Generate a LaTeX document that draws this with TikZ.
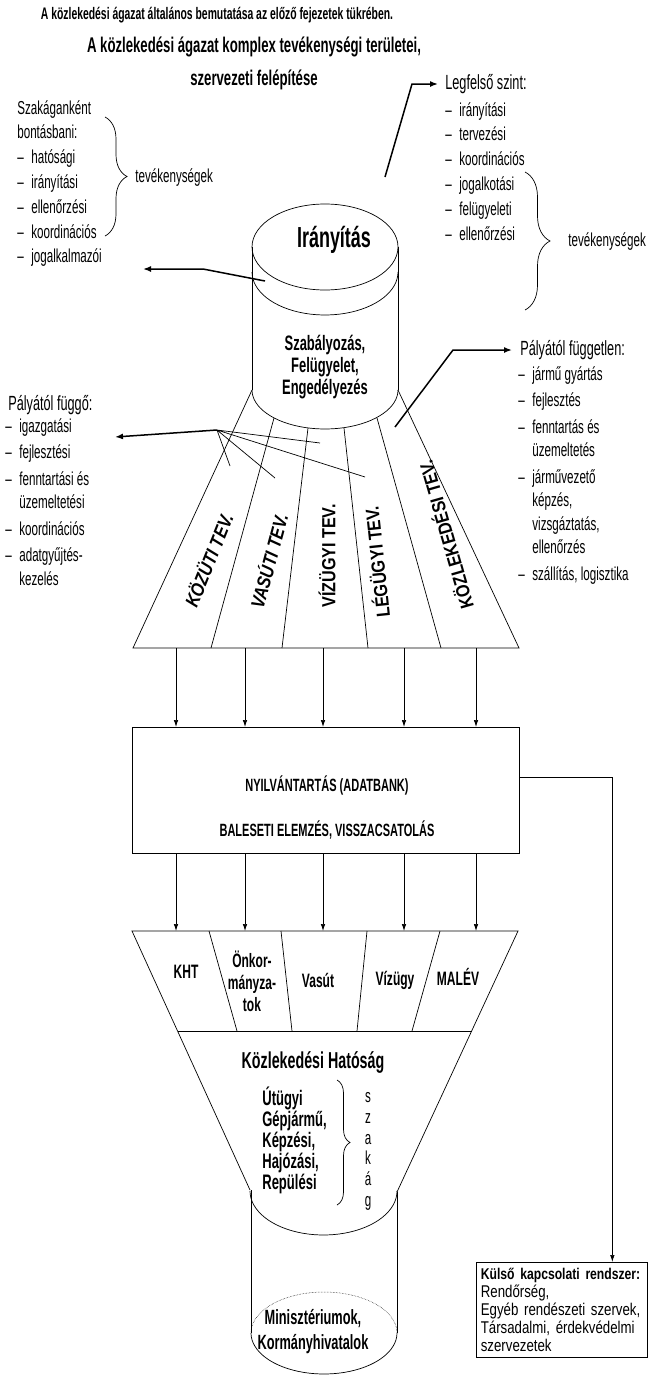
\documentclass[tikz,border=0pt]{standalone}
\usepackage{fontspec}
\setmainfont{Liberation Sans}[FakeStretch=0.62]
\newfontfamily\widesans{Liberation Sans}[FakeStretch=0.85]
\newfontfamily\boxsans{Liberation Sans}[FakeStretch=0.78]
\usetikzlibrary{arrows.meta,positioning,calc,decorations.pathreplacing}
\newcommand{\itm}[1]{\makebox[14pt][l]{–}#1}
\newcommand{\fs}[2]{\fontsize{#1}{#2}\selectfont}

\begin{document}
\begin{tikzpicture}[x=1pt, y=-1pt, line width=0.7pt,
    every node/.style={inner sep=0pt},
    lst/.style={align=left, anchor=north west, font=\fs{18.75}{24.8}},
    hdr/.style={anchor=west, font=\fs{20.5}{22}},
    arr/.style={-{Latex[length=7pt,width=4.5pt]}, line width=0.7pt},
    bigarr/.style={-{Latex[length=8pt,width=6pt]}, line width=1.5pt},
    brc/.style={decorate, decoration={brace, amplitude=#1}},
    tev/.style={font=\widesans\bfseries\fs{19}{20}},
    lbl/.style={font=\bfseries\fs{19.4}{22}, align=center}
  ]
  \useasboundingbox (0,0) rectangle (649,1376);

  % titles
  \node[font=\bfseries\fs{16.75}{18}] (t1) at (217,15)
    {A közlekedési ágazat általános bemutatása az előző fejezetek tükrében.};
  \node[font=\bfseries\fs{21.25}{33}, align=center] (t2) at (254,63)
    {A közlekedési ágazat komplex tevékenységi területei,\\szervezeti felépítése};

  % szakaganként
  \node[lst] (szak) at (17,100) {Szakáganként\\bontásbani:\\\itm{hatósági}\\\itm{irányítási}%
    \\\itm{ellenőrzési}\\\itm{koordinációs}\\\itm{jogalkalmazói}};
  \draw[brc=22pt] (105,117) -- (105,236);
  \node[lst, anchor=west] (tevl) at (135,178) {tevékenységek};

  % legfelso szint
  \node[hdr] (legh) at (445,84) {Legfelső szint:};
  \node[lst] (legl) at (445,102) {\itm{irányítási}\\\itm{tervezési}\\\itm{koordinációs}%
    \\\itm{jogalkotási}\\\itm{felügyeleti}\\\itm{ellenőrzési}};
  \draw[brc=25pt] (525,172) -- (525,310);
  \node[lst, anchor=west] (tevr) at (568,242) {tevékenységek};

  % iranyitas henger
  \draw (325,247) ellipse [x radius=73, y radius=43];
  \draw plot[domain=0:180, samples=40] ({325+73*cos(\x)},{272+43*sin(\x)});
  \draw (252,247) -- (252,390);
  \draw (398,247) -- (398,390);
  \draw plot[domain=0:180, samples=40] ({325+73*cos(\x)},{390+39*sin(\x)});
  \node[font=\bfseries\fs{29}{30}] (iran) at (334,240) {Irányítás};
  \node[font=\bfseries\fs{20.9}{22}, align=center] (szab) at (325,367)
    {Szabályozás,\\Felügyelet,\\Engedélyezés};

  % legyezo
  \coordinate (fa) at (133,648);
  \coordinate (fb) at (519,648);
  \draw (252,390) -- (fa) -- (fb) -- (398,390);
  \draw (274,418) -- (211,648);
  \draw (308,428) -- (282,648);
  \draw (344,428) -- (368,648);
  \draw (377,418) -- (441,648);
  \node[tev, rotate=68] (kozuti) at (208,560) {\itshape KÖZÜTI TEV.};
  \node[tev, rotate=75] (vasuti) at (268,561) {\itshape VASÚTI TEV.};
  \node[tev, rotate=90] (vizugyi) at (327,556) {VÍZÜGYI TEV.};
  \node[tev, rotate=96] (legugyi) at (376,562) {LÉGÜGYI TEV.};
  \node[tev, rotate=106] (kozlek) at (445,535) {KÖZLEKEDÉSI TEV.};

  % nyilak a felso reszen
  \coordinate (irtop) at (385,177);
  \draw[bigarr] (irtop) -- ($(legh.west)+(-33,0)$) -- ([xshift=-7pt]legh.west);
  \coordinate (jogs) at (265,281);
  \coordinate (joge) at (143,269);
  \draw[bigarr] (jogs) -- ($(joge)+(60,0)$) -- (joge);

  % palyatol fuggo
  \node[hdr] (pfgh) at (8,405) {Pályától függő:};
  \node[lst, font=\fs{18.75}{23.5}] (pfgl) at (5,418) {\itm{igazgatási}\\[3pt]\itm{fejlesztési}%
    \\[3pt]\itm{fenntartási és}\\\hspace*{14pt}üzemeltetési\\[3pt]\itm{koordinációs}%
    \\[3pt]\itm{adatgyűjtés-}\\\hspace*{14pt}kezelés};
  \coordinate (hub) at (217,430);
  \coordinate (pfge) at (115,437);
  \coordinate (h1) at (230,466);
  \coordinate (h2) at (275,478);
  \coordinate (h3) at (320,443);
  \coordinate (h4) at (365,477);
  \draw[bigarr] (hub) -- (pfge);
  \draw (hub) -- (h1) (hub) -- (h2) (hub) -- (h3) (hub) -- (h4);

  % palyatol fuggetlen
  \node[hdr] (pfh) at (520,350) {Pályától független:};
  \node[lst, font=\fs{18.75}{23.5}] (pfl) at (518,366) {\itm{jármű gyártás}\\[3pt]\itm{fejlesztés}%
    \\[3pt]\itm{fenntartás és}\\\hspace*{14pt}üzemeltetés\\[3pt]\itm{járművezető}%
    \\\hspace*{14pt}képzés,\\\hspace*{14pt}vizsgáztatás,\\\hspace*{14pt}ellenőrzés%
    \\[3pt]\itm{szállítás, logisztika}};
  \coordinate (kzl) at (395,427);
  \draw[bigarr] (kzl) -- ($(pfh.west)+(-67,0)$) -- ([xshift=-8pt]pfh.west);

  % nyilvantartas
  \node[draw, minimum width=387pt, minimum height=126pt] (reg) at (325.5,790) {};
  \node[font=\bfseries\fs{17.75}{18}] (nyil) at (327,785) {NYILVÁNTARTÁS (ADATBANK)};
  \node[font=\bfseries\fs{17.75}{18}] (bal) at (327,830) {BALESETI ELEMZÉS, VISSZACSATOLÁS};
  \foreach \x in {176,245,323,404,476} {
    \draw[arr] (\x,648) -- (\x,727);
    \draw[arr] (\x,853) -- (\x,931);
  }

  % szervezetek
  \coordinate (ga) at (132,931);
  \coordinate (gb) at (518,931);
  \draw (250,1190) -- (ga) -- (gb) -- (397,1192);
  \draw (209,931) -- (237,1031);
  \draw (281,931) -- (292,1031);
  \draw (367,931) -- (357,1031);
  \draw (440,931) -- (412,1031);
  \draw (178,1031) -- (472,1031);
  \node[lbl] (kht) at (186,972) {KHT};
  \node[lbl] (onk) at (252,981) {Önkor-\\mányza-\\tok};
  \node[lbl] (vasut) at (318,980) {Vasút};
  \node[lbl] (vizugy) at (395,980) {Vízügy};
  \node[lbl] (malev) at (458,977) {MALÉV};
  \node[font=\bfseries\fs{23}{24}] (hat) at (313,1062) {Közlekedési Hatóság};
  \node[lst, font=\bfseries\fs{21}{20.8}] (szk) at (262,1087)
    {Útügyi\\Gépjármű,\\Képzési,\\Hajózási,\\Repülési};
  \draw[brc=13pt] (337,1080) -- (337,1205);
  \node[font=\fs{18.75}{20.8}, align=center, anchor=north] (szakag) at (368,1092)
    {s\\z\\a\\k\\á\\g};

  % miniszteriumok henger
  \draw plot[domain=0:180, samples=40] ({323.5+73.5*cos(\x)},{1191+44*sin(\x)});
  \draw (251,1190) -- (251,1333);
  \draw (397,1192) -- (397,1333);
  \draw[densely dotted, line width=0.5pt] plot[domain=180:360, samples=40]
    ({324+73*cos(\x)},{1333+41*sin(\x)});
  \draw plot[domain=0:180, samples=40] ({324+73*cos(\x)},{1333+41*sin(\x)});
  \node[font=\bfseries\fs{20.6}{25}, align=center] (min) at (313,1332)
    {Minisztériumok,\\Kormányhivatalok};

  % kulso kapcsolatok
  \node[draw, anchor=north west, text width=162pt, inner xsep=4.5pt, inner ysep=6pt,
        align=left, font=\boxsans\fs{17}{18}, minimum height=95pt] (kulso) at (476,1262)
    {\mbox{\bfseries\fs{15.6}{18}Külső kapcsolati rendszer:}\\Rendőrség,\\%
     \mbox{Egyéb rendészeti szervek,}\\\mbox{Társadalmi, érdekvédelmi}\\szervezetek};
  \draw[arr] ($(reg.east)+(0,-13)$) -| ($(kulso.north)+(50.5,0)$);
\end{tikzpicture}
\end{document}
